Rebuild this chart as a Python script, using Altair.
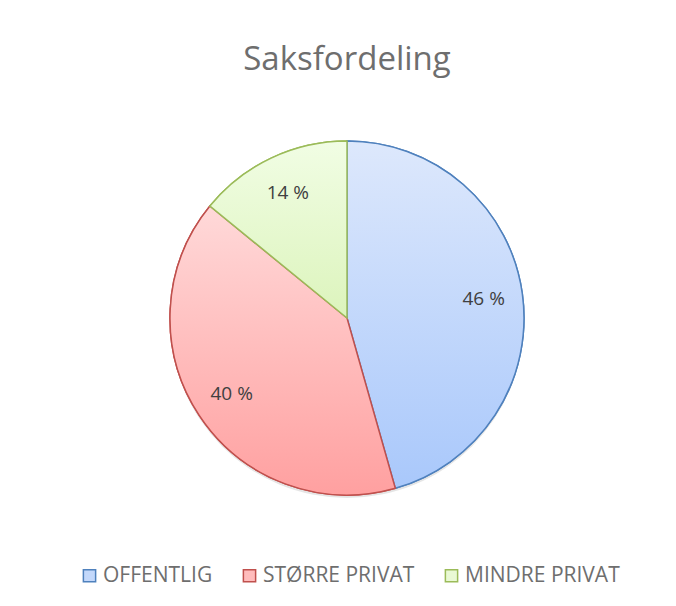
import altair as alt
import pandas as pd

# ---- data ----
categories = ["OFFENTLIG", "STØRRE PRIVAT", "MINDRE PRIVAT"]
values = [45.6, 40.3, 14.1]
order = [0, 1, 2]
solid_colors = ["#c3d8fb", "#ffbcbc", "#e9f9d4"]
stroke_colors = ["#4F81BD", "#C0504D", "#9BBB59"]
grad_top = ["#dde8fc", "#ffd9d9", "#f1fde4"]
grad_bottom = ["#a9c8fb", "#ffa0a0", "#dcf4bc"]
title_text = "Saksfordeling"

df = pd.DataFrame({"cat": categories, "value": values, "idx": order})

CX, CY, R = 339, 310, 177
FONT = "Open Sans"


def grad(c0, c1):
    return {
        "gradient": "linear",
        "x1": 0, "y1": 0, "x2": 0, "y2": 1,
        "stops": [{"offset": 0, "color": c0}, {"offset": 1, "color": c1}],
    }


grads = [grad(a, b) for a, b in zip(grad_top, grad_bottom)]

base = alt.Chart(df).transform_calculate(
    label="format(datum.value, '.0f') + ' %'"
).encode(
    theta=alt.Theta("value:Q", stack=True),
    order=alt.Order("idx:Q"),
    x=alt.value(CX),
    y=alt.value(CY),
)

legend = alt.Legend(
    orient="none", legendX=71, legendY=557, direction="horizontal", title=None,
    symbolType="square", symbolSize=150, symbolStrokeWidth=1.5, symbolOpacity=1,
    labelFont=FONT, labelFontSize=21, labelColor="#6e6e6e", labelOffset=3,
    columnPadding=26,
)

shadow = alt.Chart(pd.DataFrame({"a": [0]})).mark_arc(
    theta=0, theta2=6.2832, outerRadius=R, fill="#000000", fillOpacity=0.10, strokeWidth=0
).encode(x=alt.value(CX), y=alt.value(CY + 3))

layer_a = base.mark_arc(outerRadius=R, strokeWidth=1.5).encode(
    fill=alt.Fill("cat:N", scale=alt.Scale(domain=categories, range=solid_colors), legend=legend),
    stroke=alt.Stroke("cat:N", scale=alt.Scale(domain=categories, range=stroke_colors), legend=legend),
)

fill_cond = {
    "condition": [
        {"test": f"datum.cat === '{categories[0]}'", "value": grads[0]},
        {"test": f"datum.cat === '{categories[1]}'", "value": grads[1]},
    ],
    "value": grads[2],
}
stroke_cond = {
    "condition": [
        {"test": f"datum.cat === '{categories[0]}'", "value": stroke_colors[0]},
        {"test": f"datum.cat === '{categories[1]}'", "value": stroke_colors[1]},
    ],
    "value": stroke_colors[2],
}

layer_b = base.mark_arc(outerRadius=R, strokeWidth=1.5).encode(
    fill=fill_cond, stroke=stroke_cond
)

labels = base.mark_text(radius=138, font=FONT, fontSize=19, color="#404040").encode(
    text="label:N"
)

title = alt.Chart(pd.DataFrame({"t": [title_text]})).mark_text(
    font=FONT, fontSize=33, color="#6e6e6e", baseline="alphabetic", align="center"
).encode(x=alt.value(CX), y=alt.value(62), text="t:N")

chart = alt.layer(shadow, layer_a, layer_b, labels, title).properties(
    width=660, height=590, autosize="none", padding=0, background="white"
).configure_view(stroke=None)

chart.save("out.html", embed_options={"renderer": "svg", "actions": False})
